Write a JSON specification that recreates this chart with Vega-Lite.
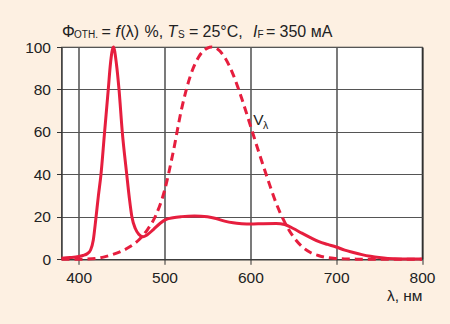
{
  "$schema": "https://vega.github.io/schema/vega-lite/v6.json",
  "width": 360.5,
  "height": 212.3,
  "autosize": {"type": "none"},
  "padding": {"left": 61.5, "top": 47, "right": 28, "bottom": 64.7},
  "background": "#fdf0e2",
  "config": {
    "view": {"stroke": "#333", "strokeWidth": 1.2, "fill": "white"},
    "font": "Liberation Sans"
  },
  "datasets": {
    "led": [
      {"wl": 380, "v": 0.5}, {"wl": 390, "v": 0.8}, {"wl": 400, "v": 1.3}, {"wl": 405, "v": 1.8},
      {"wl": 410, "v": 2.6}, {"wl": 414, "v": 4.5}, {"wl": 417, "v": 9}, {"wl": 420, "v": 19},
      {"wl": 423, "v": 30}, {"wl": 426, "v": 40}, {"wl": 430, "v": 59}, {"wl": 434.5, "v": 80},
      {"wl": 437, "v": 92}, {"wl": 440.5, "v": 100}, {"wl": 444, "v": 92}, {"wl": 447, "v": 80},
      {"wl": 450.8, "v": 60}, {"wl": 456, "v": 40}, {"wl": 459, "v": 29}, {"wl": 462, "v": 20},
      {"wl": 466, "v": 14.5}, {"wl": 470, "v": 11.8}, {"wl": 475, "v": 10.6}, {"wl": 480, "v": 11.6},
      {"wl": 487, "v": 14}, {"wl": 495, "v": 17}, {"wl": 502, "v": 18.8}, {"wl": 510, "v": 19.6},
      {"wl": 520, "v": 20.1}, {"wl": 535, "v": 20.4}, {"wl": 550, "v": 20}, {"wl": 560, "v": 19.2},
      {"wl": 570, "v": 18}, {"wl": 580, "v": 17.2}, {"wl": 590, "v": 16.8}, {"wl": 600, "v": 16.6},
      {"wl": 615, "v": 16.8}, {"wl": 630, "v": 16.9}, {"wl": 640, "v": 16.4}, {"wl": 650, "v": 14.5},
      {"wl": 660, "v": 12.3}, {"wl": 670, "v": 10.2}, {"wl": 680, "v": 8.3}, {"wl": 690, "v": 7},
      {"wl": 700, "v": 5.8}, {"wl": 710, "v": 4.3}, {"wl": 720, "v": 3.2}, {"wl": 730, "v": 2.2},
      {"wl": 740, "v": 1.4}, {"wl": 750, "v": 0.8}, {"wl": 760, "v": 0.4}, {"wl": 775, "v": 0.2},
      {"wl": 800, "v": 0.2}
    ],
    "vl": [
      {"wl": 380, "v": 0}, {"wl": 390, "v": 0.01}, {"wl": 400, "v": 0.04}, {"wl": 410, "v": 0.12},
      {"wl": 420, "v": 0.4}, {"wl": 430, "v": 1.16}, {"wl": 440, "v": 2.3}, {"wl": 450, "v": 3.8},
      {"wl": 460, "v": 6}, {"wl": 470, "v": 9.1}, {"wl": 480, "v": 13.9}, {"wl": 490, "v": 20.8},
      {"wl": 500, "v": 32.3}, {"wl": 510, "v": 50.3}, {"wl": 520, "v": 71}, {"wl": 530, "v": 86.2},
      {"wl": 540, "v": 95.4}, {"wl": 550, "v": 99.5}, {"wl": 555, "v": 100}, {"wl": 560, "v": 99.5},
      {"wl": 570, "v": 95.2}, {"wl": 580, "v": 87}, {"wl": 590, "v": 75.7}, {"wl": 600, "v": 63.1},
      {"wl": 610, "v": 50.3}, {"wl": 620, "v": 38.1}, {"wl": 630, "v": 26.5}, {"wl": 640, "v": 17.5},
      {"wl": 650, "v": 10.7}, {"wl": 660, "v": 6.1}, {"wl": 670, "v": 3.2}, {"wl": 680, "v": 1.7},
      {"wl": 690, "v": 0.8}, {"wl": 700, "v": 0.4}, {"wl": 710, "v": 0.2}, {"wl": 720, "v": 0.1},
      {"wl": 730, "v": 0.05}, {"wl": 800, "v": 0}
    ],
    "normalText": [
      {"wl": 380.6, "v": 104.8, "t": "Φ"},
      {"wl": 426.6, "v": 104.8, "t": "="},
      {"wl": 448.7, "v": 104.8, "t": "(λ)"},
      {"wl": 476.6, "v": 104.8, "t": "%,"},
      {"wl": 528.5, "v": 104.8, "t": "="},
      {"wl": 544.3, "v": 104.8, "t": "25°C,"},
      {"wl": 618.3, "v": 104.8, "t": "="},
      {"wl": 634.0, "v": 104.8, "t": "350 мА"}
    ],
    "italicText": [
      {"wl": 442.9, "v": 104.8, "t": "f"},
      {"wl": 503.5, "v": 104.8, "t": "T"},
      {"wl": 603.1, "v": 104.8, "t": "I"}
    ],
    "subText": [
      {"wl": 394.6, "v": 104.3, "t": "ОТН."},
      {"wl": 515.7, "v": 104.3, "t": "S"},
      {"wl": 608.4, "v": 104.3, "t": "F"}
    ],
    "vText": [{"wl": 603.4, "v": 63.3, "t": "V"}],
    "vSub": [{"wl": 614.8, "v": 61.2, "t": "λ"}]
  },
  "encoding": {
    "x": {"field": "wl", "type": "quantitative", "scale": {"domain": [380, 800], "nice": false, "zero": false}},
    "y": {"field": "v", "type": "quantitative", "scale": {"domain": [0, 100], "nice": false}}
  },
  "layer": [
    {
      "data": {"name": "led"},
      "mark": {"type": "line", "color": "#e61e3e", "strokeWidth": 3, "interpolate": "monotone"},
      "encoding": {
        "x": {
          "field": "wl", "type": "quantitative",
          "scale": {"domain": [380, 800], "nice": false, "zero": false},
          "axis": {
            "title": "λ, нм", "titleFontSize": 15.5, "titleFontWeight": "normal", "titleColor": "#222",
            "titleAnchor": "end", "titleAlign": "right", "titleBaseline": "top", "titlePadding": 3,
            "values": [400, 500, 600, 700, 800], "labelFontSize": 15.5, "labelColor": "#222",
            "labelPadding": 6, "tickSize": 5, "tickColor": "#333", "domainColor": "#333",
            "grid": true, "gridColor": "#222", "gridOpacity": 1, "gridWidth": 1.2, "labelFlush": false
          }
        },
        "y": {
          "field": "v", "type": "quantitative",
          "scale": {"domain": [0, 100], "nice": false},
          "axis": {
            "title": null, "values": [0, 20, 40, 60, 80, 100], "labelFontSize": 15.5, "labelColor": "#222",
            "labelPadding": 6, "tickSize": 5, "tickColor": "#333", "domainColor": "#333",
            "grid": true, "gridColor": "#555", "gridOpacity": 1, "gridWidth": 1.2
          }
        }
      }
    },
    {
      "data": {"name": "vl"},
      "mark": {"type": "line", "color": "#e61e3e", "strokeWidth": 3, "strokeDash": [8, 5], "interpolate": "monotone"}
    },
    {
      "data": {"name": "normalText"},
      "mark": {"type": "text", "align": "left", "baseline": "alphabetic", "fontSize": 16, "color": "#222"},
      "encoding": {"text": {"field": "t"}}
    },
    {
      "data": {"name": "italicText"},
      "mark": {"type": "text", "align": "left", "baseline": "alphabetic", "fontSize": 16, "fontStyle": "italic", "color": "#222"},
      "encoding": {"text": {"field": "t"}}
    },
    {
      "data": {"name": "subText"},
      "mark": {"type": "text", "align": "left", "baseline": "alphabetic", "fontSize": 10, "color": "#222"},
      "encoding": {"text": {"field": "t"}}
    },
    {
      "data": {"name": "vText"},
      "mark": {"type": "text", "align": "left", "baseline": "alphabetic", "fontSize": 15.5, "color": "#222"},
      "encoding": {"text": {"field": "t"}}
    },
    {
      "data": {"name": "vSub"},
      "mark": {"type": "text", "align": "left", "baseline": "alphabetic", "fontSize": 10.5, "color": "#222"},
      "encoding": {"text": {"field": "t"}}
    }
  ]
}
